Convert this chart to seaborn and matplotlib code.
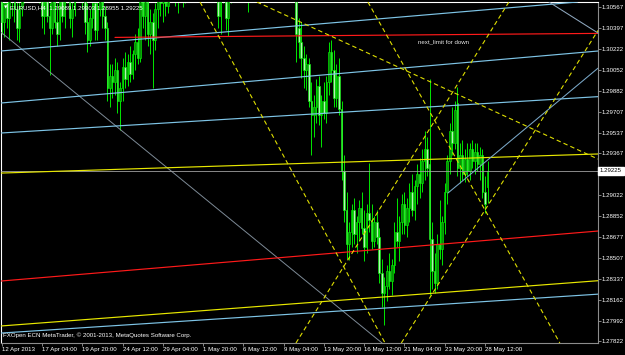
import matplotlib
matplotlib.use("Agg")
import matplotlib.pyplot as plt
import matplotlib.transforms as mtransforms
import numpy as np
import pandas as pd
import seaborn as sns

# ---------------- data ----------------
symbol = "EURUSD,H4"
opens = [
    1.3080,1.3045,1.3060,1.3048,1.3068,1.3082,1.3055,1.3040,1.3058,1.3072,
    1.3100,1.3130,1.3160,1.3150,1.3130,1.3090,1.3070,1.3050,1.3062,1.3050,
    1.3040,1.3065,1.3045,1.3035,1.3062,1.3050,1.3068,1.3088,1.3048,1.3055,
    1.3082,1.3100,1.3075,1.3080,1.3045,1.3030,1.3048,1.3060,1.3038,1.3055,
    1.3078,1.3050,1.3040,1.2990,1.3000,1.2995,1.3005,1.2980,1.2990,1.3008,
    1.2998,1.3012,1.3002,1.3018,1.3028,1.3015,1.3065,1.3050,1.3070,1.3035,
    1.3045,1.3030,1.3055,1.3068,1.3060,1.3080,1.3058,1.3078,1.3102,1.3095,
    1.3068,1.3085,1.3108,1.3070,1.3095,1.3125,1.3140,1.3158,1.3170,1.3190,
    1.3220,1.3210,1.3190,1.3160,1.3130,1.3110,1.3090,1.3050,1.3072,1.3085,
    1.3048,1.3068,1.3098,1.3120,1.3095,1.3080,1.3100,1.3085,1.3075,1.3082,
    1.3095,1.3085,1.3090,1.3110,1.3128,1.3145,1.3160,1.3150,1.3140,1.3155,
    1.3165,1.3150,1.3130,1.3140,1.3125,1.3105,1.3095,1.3080,1.3040,1.3028,
    1.3015,1.3005,1.3010,1.2980,1.2968,1.2975,1.2992,1.2968,1.2980,1.2970,
    1.2995,1.3020,1.3005,1.2982,1.3000,1.2973,1.2922,1.2890,1.2862,1.2872,
    1.2890,1.2870,1.2880,1.2892,1.2875,1.2860,1.2888,1.2882,1.2865,1.2880,
    1.2868,1.2838,1.2822,1.2828,1.2840,1.2832,1.2845,1.2872,1.2865,1.2880,
    1.2895,1.2878,1.2892,1.2905,1.2890,1.2910,1.2920,1.2912,1.2930,1.2940,
    1.2928,1.2866,1.2840,1.2830,1.2862,1.2858,1.2880,1.2905,1.2930,1.2955,
    1.2945,1.2978,1.2925,1.2935,1.2920,1.2932,1.2922,1.2940,1.2930,1.2938,
    1.2928,1.2935,1.2905,1.29089]
highs = [
    1.3095,1.3070,1.3085,1.3075,1.3090,1.3095,1.3070,1.3065,1.3080,1.3110,
    1.3140,1.3170,1.3190,1.3165,1.3140,1.3110,1.3085,1.3075,1.3080,1.3060,
    1.3070,1.3080,1.3060,1.3070,1.3085,1.3075,1.3095,1.3100,1.3065,1.3090,
    1.3110,1.3115,1.3095,1.3090,1.3060,1.3055,1.3068,1.3075,1.3062,1.3085,
    1.3090,1.3058,1.3045,1.3010,1.3010,1.3015,1.3012,1.2995,1.3015,1.3020,
    1.3018,1.3025,1.3022,1.3035,1.3040,1.3070,1.3085,1.3075,1.3080,1.3055,
    1.3052,1.3060,1.3075,1.3090,1.3085,1.3095,1.3085,1.3110,1.3120,1.3110,
    1.3090,1.3115,1.3120,1.3100,1.3130,1.3150,1.3165,1.3175,1.3200,1.3230,
    1.3242,1.3225,1.3200,1.3170,1.3145,1.3125,1.3100,1.3080,1.3095,1.3100,
    1.3075,1.3105,1.3130,1.3140,1.3110,1.3105,1.3115,1.3095,1.3090,1.3100,
    1.3110,1.3098,1.3115,1.3135,1.3150,1.3170,1.3180,1.3165,1.3160,1.3175,
    1.3178,1.3165,1.3150,1.3160,1.3140,1.3120,1.3110,1.3095,1.3048,1.3045,
    1.3025,1.3018,1.3015,1.2995,1.2985,1.2998,1.3000,1.2985,1.2995,1.3000,
    1.3028,1.3030,1.3022,1.3010,1.3015,1.2980,1.2935,1.2905,1.2880,1.2895,
    1.2900,1.2885,1.2898,1.2905,1.2890,1.2895,1.2929,1.2895,1.2885,1.2890,
    1.2875,1.2850,1.2835,1.2845,1.2855,1.2850,1.2880,1.2900,1.2885,1.2903,
    1.2905,1.2900,1.2912,1.2920,1.2915,1.2928,1.2933,1.2940,1.2955,1.2950,
    1.2998,1.2880,1.2855,1.2870,1.2898,1.2885,1.2912,1.2935,1.2962,1.2975,
    1.2980,1.2991,1.2945,1.2948,1.2940,1.2945,1.2945,1.2948,1.2945,1.2945,
    1.2942,1.2940,1.2918,1.29303]
lows = [
    1.3035,1.3032,1.3040,1.3030,1.3050,1.3045,1.3030,1.3028,1.3050,1.3060,
    1.3090,1.3120,1.3140,1.3120,1.3080,1.3060,1.3040,1.3035,1.3045,1.3001,
    1.3035,1.3040,1.3025,1.3030,1.3045,1.3040,1.3060,1.3040,1.3032,1.3050,
    1.3070,1.3065,1.3055,1.3035,1.3020,1.3025,1.3040,1.3030,1.3030,1.3050,
    1.3040,1.3030,1.2980,1.2975,1.2982,1.2985,1.2970,1.2956,1.2980,1.2990,
    1.2992,1.2995,1.2998,1.3005,1.3010,1.3012,1.3040,1.3030,1.3025,1.3018,
    1.2990,1.3022,1.3040,1.3050,1.3045,1.3050,1.3052,1.3070,1.3085,1.3058,
    1.3052,1.3075,1.3057,1.3060,1.3085,1.3110,1.3125,1.3140,1.3160,1.3180,
    1.3200,1.3180,1.3150,1.3120,1.3100,1.3080,1.3040,1.3035,1.3060,1.3038,
    1.3033,1.3060,1.3090,1.3085,1.3068,1.3070,1.3075,1.3065,1.3053,1.3070,
    1.3075,1.3068,1.3080,1.3100,1.3115,1.3135,1.3140,1.3130,1.3125,1.3140,
    1.3145,1.3120,1.3110,1.3120,1.3095,1.3085,1.3070,1.3012,1.3015,1.2999,
    1.2990,1.2989,1.2975,1.2935,1.2950,1.2962,1.2960,1.2942,1.2965,1.2962,
    1.2985,1.2995,1.2975,1.2975,1.2968,1.2915,1.2880,1.2850,1.2849,1.2860,
    1.2862,1.2855,1.2865,1.2870,1.2848,1.2855,1.2872,1.2858,1.2860,1.2862,
    1.2830,1.2810,1.2796,1.2815,1.2825,1.2820,1.2838,1.2860,1.2848,1.2870,
    1.2870,1.2868,1.2880,1.2885,1.2882,1.2895,1.2900,1.2905,1.2915,1.2918,
    1.2820,1.2825,1.2822,1.2825,1.2850,1.2845,1.2870,1.2895,1.2920,1.2935,
    1.2940,1.2918,1.2912,1.2915,1.2913,1.2918,1.2915,1.2925,1.2920,1.2922,
    1.2915,1.2900,1.2888,1.28955]
closes = [
    1.3045,1.3060,1.3048,1.3068,1.3082,1.3055,1.3040,1.3058,1.3072,1.3100,
    1.3130,1.3160,1.3150,1.3130,1.3090,1.3070,1.3050,1.3062,1.3050,1.3040,
    1.3065,1.3045,1.3035,1.3062,1.3050,1.3068,1.3088,1.3048,1.3055,1.3082,
    1.3100,1.3075,1.3080,1.3045,1.3030,1.3048,1.3060,1.3038,1.3055,1.3078,
    1.3050,1.3040,1.2990,1.3000,1.2995,1.3005,1.2980,1.2990,1.3008,1.2998,
    1.3012,1.3002,1.3018,1.3028,1.3015,1.3065,1.3050,1.3070,1.3035,1.3045,
    1.3030,1.3055,1.3068,1.3060,1.3080,1.3058,1.3078,1.3102,1.3095,1.3068,
    1.3085,1.3108,1.3070,1.3095,1.3125,1.3140,1.3158,1.3170,1.3190,1.3220,
    1.3210,1.3190,1.3160,1.3130,1.3110,1.3090,1.3050,1.3072,1.3085,1.3048,
    1.3068,1.3098,1.3120,1.3095,1.3080,1.3100,1.3085,1.3075,1.3082,1.3095,
    1.3085,1.3090,1.3110,1.3128,1.3145,1.3160,1.3150,1.3140,1.3155,1.3165,
    1.3150,1.3130,1.3140,1.3125,1.3105,1.3095,1.3080,1.3035,1.3028,1.3015,
    1.3005,1.3010,1.2980,1.2968,1.2975,1.2992,1.2968,1.2980,1.2970,1.2995,
    1.3020,1.3005,1.2982,1.3000,1.2973,1.2922,1.2890,1.2862,1.2872,1.2890,
    1.2870,1.2880,1.2892,1.2875,1.2860,1.2888,1.2882,1.2865,1.2880,1.2868,
    1.2838,1.2822,1.2828,1.2840,1.2832,1.2845,1.2872,1.2865,1.2880,1.2895,
    1.2878,1.2892,1.2905,1.2890,1.2910,1.2920,1.2912,1.2930,1.2940,1.2925,
    1.2866,1.2840,1.2830,1.2862,1.2858,1.2880,1.2905,1.2930,1.2955,1.2945,
    1.2972,1.2925,1.2935,1.2920,1.2932,1.2922,1.2940,1.2930,1.2938,1.2928,
    1.2935,1.2905,1.2895,1.29225]

x_tick_bars = [0, 16, 32, 48, 64, 80, 96, 112, 128, 144, 160, 176, 192]
x_tick_labels = ["12 Apr 2013", "17 Apr 04:00", "19 Apr 20:00", "24 Apr 12:00",
                 "29 Apr 04:00", "1 May 20:00", "6 May 12:00", "9 May 04:00",
                 "13 May 20:00", "16 May 12:00", "21 May 04:00", "23 May 20:00",
                 "28 May 12:00"]
y_tick_values = [1.30567, 1.30397, 1.30222, 1.30052, 1.29882, 1.29707, 1.29537,
                 1.29367, 1.29022, 1.28852, 1.28677, 1.28507, 1.28337, 1.28162,
                 1.27992, 1.27822]

# drawn objects: (bar1, price1, bar2, price2)
blue_channel = [(39.3, 1.30278, 198.0, 1.30557),
                (39.3, 1.29852, 198.0, 1.30138),
                (39.3, 1.29584, 198.0, 1.29784),
                (39.3, 1.27943, 198.0, 1.28157)]
yellow_levels = [(39.3, 1.29231, 198.0, 1.29336),
                 (39.3, 1.28010, 198.0, 1.28259)]
red_channel = [(39.3, 1.28386, 198.0, 1.28661)]
red_limit = (45.0, 1.30320, 236.9, 1.30353)
limit_label = (165.4, 1.30282, "next_limit for down")
grey_diag = [(0.1, 1.30356, 151.1, 1.27808)]
steel_ray = (177.3, 1.29041, 229.8, 1.29945)
top_right_seg = (217.4, 1.30611, 236.9, 1.30356)
fan_lines = [(78.8, 1.30611, 152.3, 1.27808),
             (101.4, 1.30611, 236.9, 1.29320),
             (145.5, 1.30611, 216.6, 1.27997),
             (165.0, 1.28013, 236.5, 1.30364),
             (116.9, 1.27808, 201.5, 1.30611)]

# ---------------- style ----------------
sns.set_theme(style="dark", rc={
    "axes.facecolor": "black", "figure.facecolor": "black",
    "savefig.facecolor": "black", "text.color": "white",
    "xtick.color": "#9a9a9a", "ytick.color": "#9a9a9a",
    "axes.grid": False, "lines.scale_dashes": False,
    "xtick.bottom": True, "ytick.right": True})
plt.rcParams["font.family"] = ["Liberation Sans", "DejaVu Sans"]
FS = 4.4

W, H = 625, 355
fig = plt.figure(figsize=(W / 100, H / 100), dpi=100)
ax = fig.add_axes([1 / W, 12 / H, 597 / W, 341 / H])
ax.set_xlim(-0.28, 236.9)
ax.set_ylim(1.27808, 1.30611)

df = pd.DataFrame({"bar": np.arange(len(opens)), "open": opens, "high": highs,
                   "low": lows, "close": closes})
up = df["close"] >= df["open"]
dn = ~up

ax.vlines(df["bar"], df["low"], df["high"], colors="#00e800", linewidth=0.7, zorder=2)
ax.bar(df["bar"][up], (df["close"] - df["open"])[up], bottom=df["open"][up],
       width=0.62, color="#0a8a0a", edgecolor="#00f000", linewidth=0.45, zorder=3)
ax.bar(df["bar"][dn], (df["close"] - df["open"])[dn], bottom=df["open"][dn],
       width=0.62, color="#b4f5b4", edgecolor="#00f000", linewidth=0.45, zorder=3)

LW = 0.85
for b1, p1, b2, p2 in blue_channel:
    ax.axline((b1, p1), (b2, p2), color="#7ec4e6", linewidth=LW, zorder=5)
for b1, p1, b2, p2 in yellow_levels:
    ax.axline((b1, p1), (b2, p2), color="#e8e800", linewidth=LW, zorder=5)
for b1, p1, b2, p2 in red_channel:
    ax.axline((b1, p1), (b2, p2), color="#ff1a1a", linewidth=LW, zorder=5)
ax.plot([red_limit[0], red_limit[2]], [red_limit[1], red_limit[3]],
        color="#ff1a1a", linewidth=LW, zorder=5)
for b1, p1, b2, p2 in grey_diag:
    ax.axline((b1, p1), (b2, p2), color="#7d8a96", linewidth=0.7, zorder=4)
sb1, sp1, sb2, sp2 = steel_ray
slope = (sp2 - sp1) / (sb2 - sb1)
xr = ax.get_xlim()[1]
ax.plot([sb1, xr], [sp1, sp1 + slope * (xr - sb1)], color="#7aa8c8", linewidth=0.75, zorder=5)
ax.plot([top_right_seg[0], top_right_seg[2]], [top_right_seg[1], top_right_seg[3]],
        color="#8fa8bf", linewidth=0.75, zorder=5)
for b1, p1, b2, p2 in fan_lines:
    ax.axline((b1, p1), (b2, p2), color="#dede00", linewidth=0.8,
              linestyle=(0, (3.2, 2.2)), zorder=6)

ax.axhline(closes[-1], color="#a0a0a0", linewidth=0.6, zorder=4)

ax.text(limit_label[0], limit_label[1], limit_label[2], color="#e8e8e8",
        fontsize=FS, va="center", ha="left", zorder=7)

for side in ("top", "left"):
    ax.spines[side].set_color("white")
    ax.spines[side].set_linewidth(0.8)
for side in ("bottom", "right"):
    ax.spines[side].set_color("#8c8c8c")
    ax.spines[side].set_linewidth(0.8)

ax.set_xticks(x_tick_bars)
ax.set_xticklabels(x_tick_labels, ha="left")
ax.yaxis.tick_right()
ax.set_yticks(y_tick_values)
ax.set_yticklabels([f"{v:.5f}" for v in y_tick_values])
ax.tick_params(axis="x", length=2.2, width=0.6, pad=0.6, labelsize=FS,
               labelcolor="white", direction="out")
ax.tick_params(axis="y", length=2.2, width=0.6, pad=0.6, labelsize=FS,
               labelcolor="white", direction="out")

trans = mtransforms.blended_transform_factory(fig.transFigure, ax.transData)
ax.text(600 / W, closes[-1], f"{closes[-1]:.5f}", transform=trans, color="black",
        fontsize=FS, va="center", ha="left", clip_on=False, zorder=10,
        bbox=dict(boxstyle="square,pad=0.25", facecolor="white", edgecolor="white"))

ohlc = f"{opens[-1]:.5f} {highs[-1]:.5f} {lows[-1]:.5f} {closes[-1]:.5f}"
fig.text(4 / W, 1 - 7.5 / H, "\u25BC", color="white", fontsize=3.2, va="center",
         ha="left", family=["DejaVu Sans"])
fig.text(10 / W, 1 - 7.5 / H, f"{symbol}  {ohlc}", color="white", fontsize=FS,
         va="center", ha="left")
fig.text(3 / W, 1 - 335.5 / H,
         "FXOpen ECN MetaTrader, \u00A9 2001-2013, MetaQuotes Software Corp.",
         color="white", fontsize=FS, va="center", ha="left")

fig.savefig("out.png", dpi=100, facecolor="black")
